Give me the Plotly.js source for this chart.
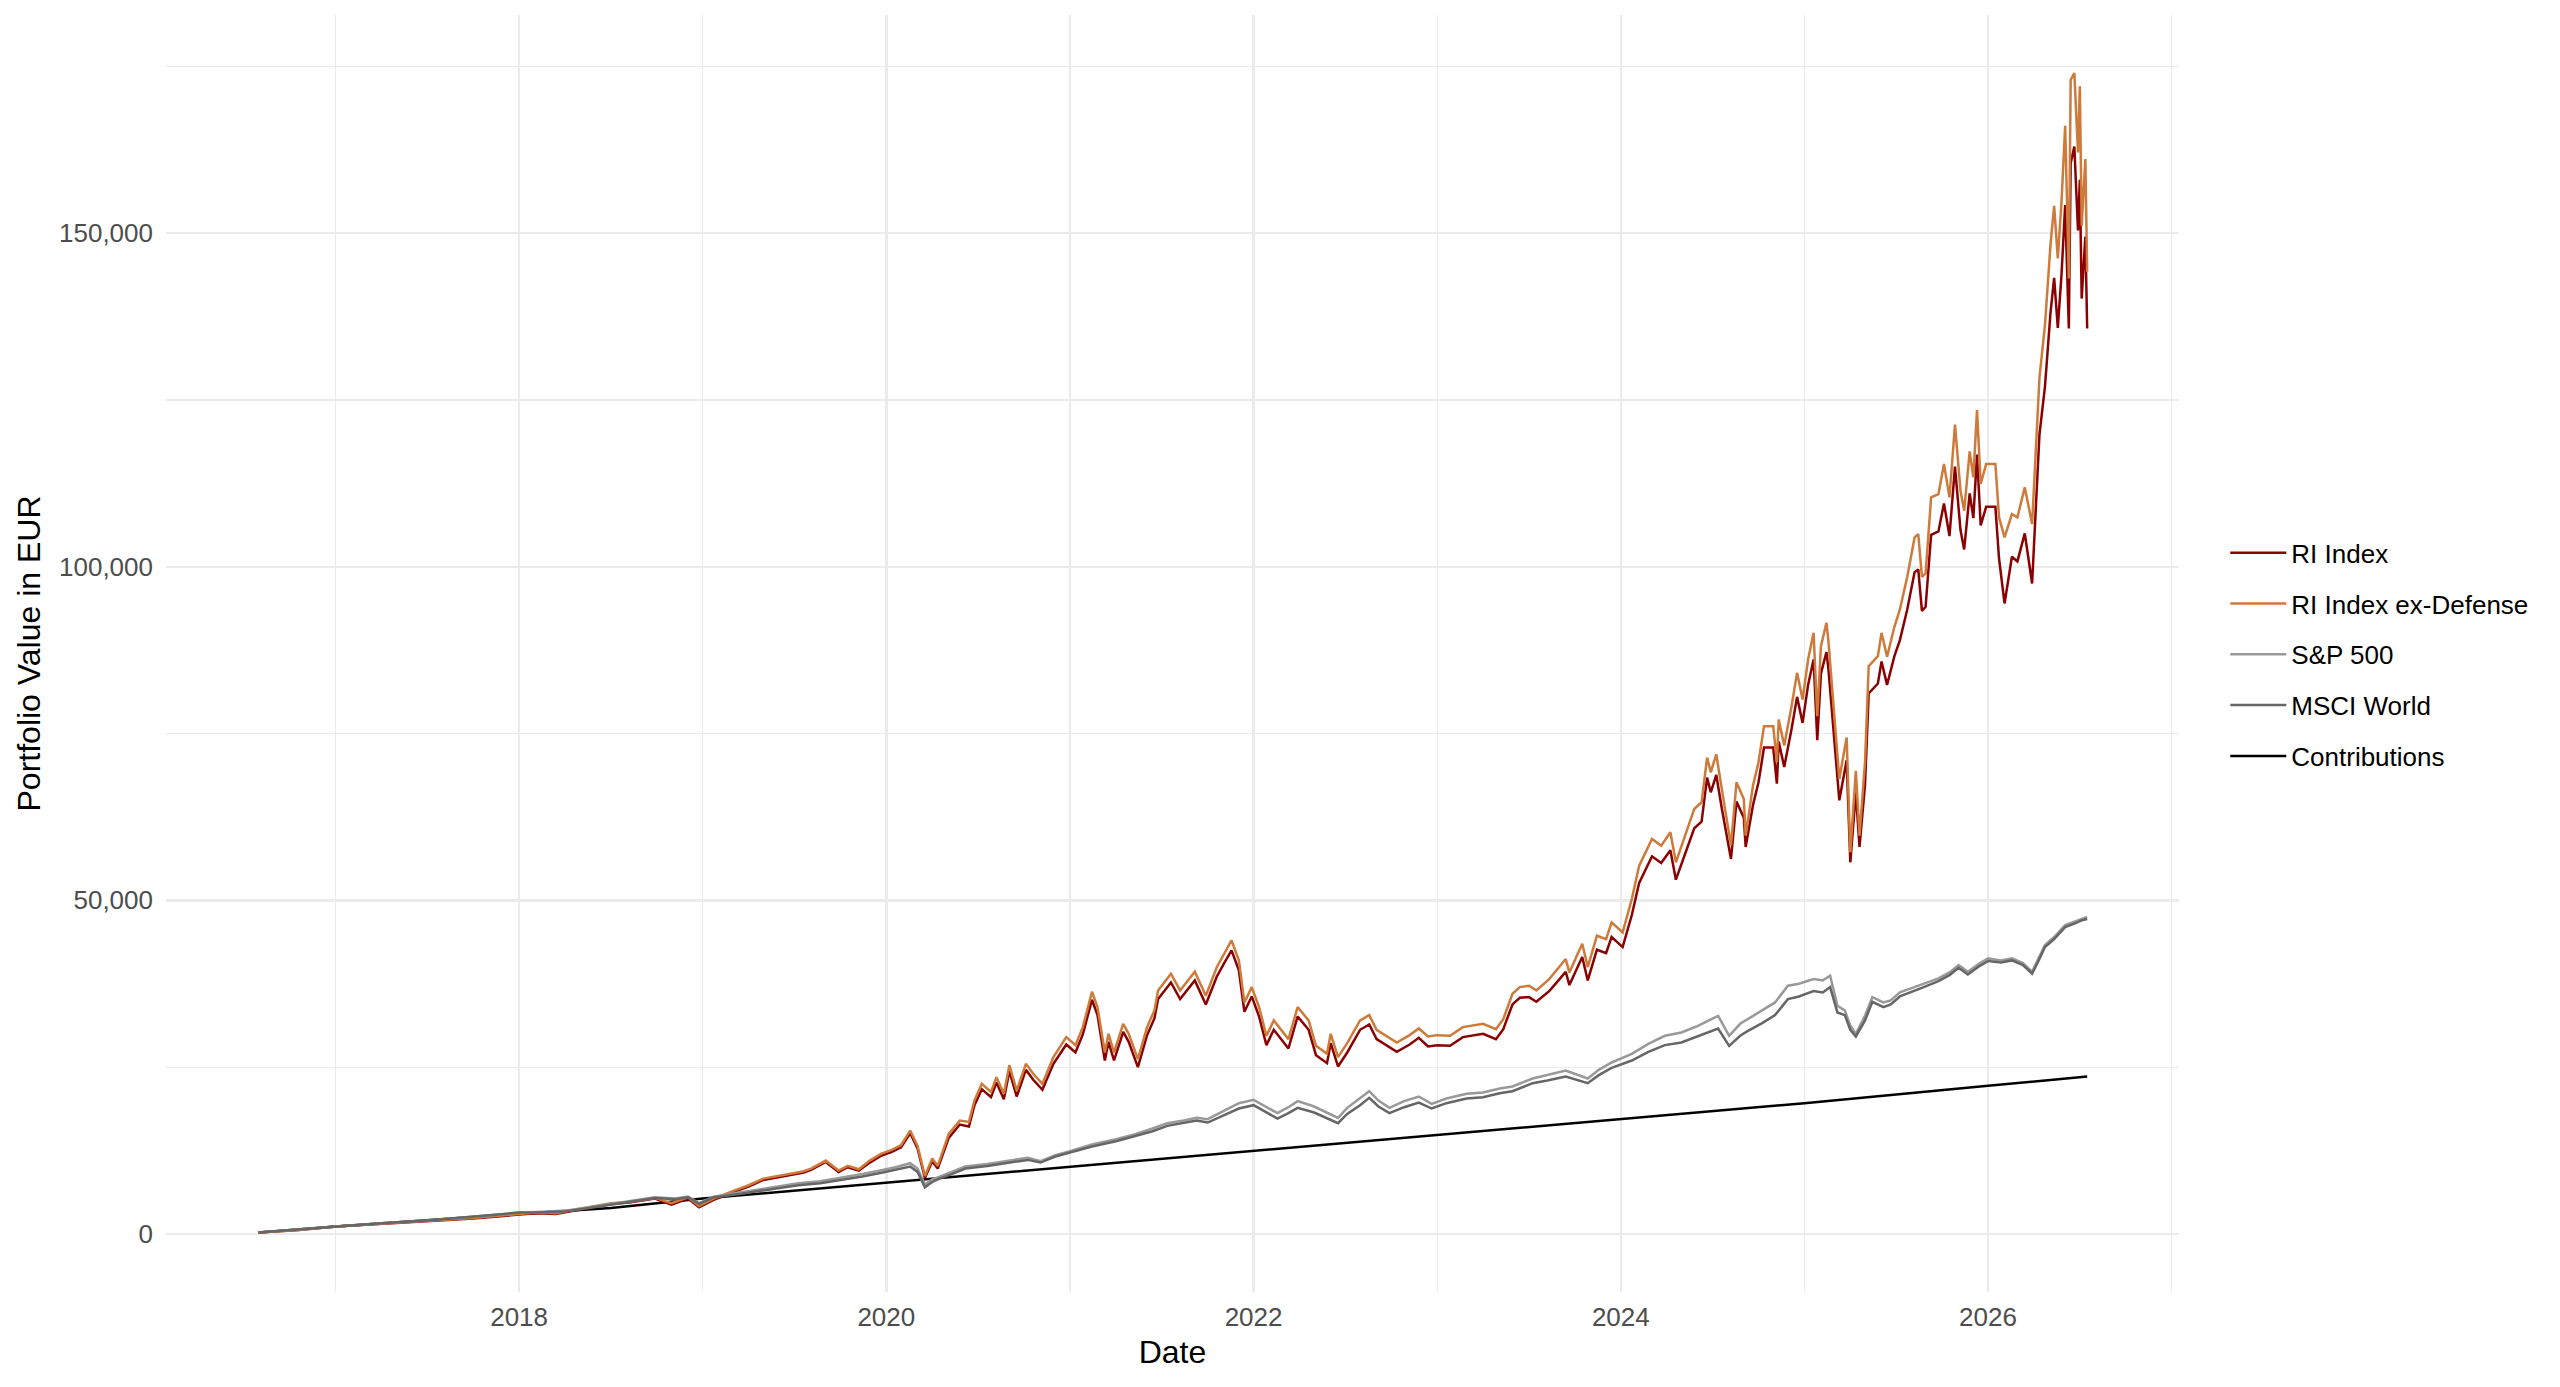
<!DOCTYPE html>
<html>
<head>
<meta charset="utf-8">
<script src="https://cdn.plot.ly/plotly-3.0.1.min.js"></script>
<style>
  html, body { margin: 0; padding: 0; background: #fff; }
  #plot { width: 2560px; height: 1387px; }
</style>
</head>
<body>
<div id="plot"></div>
<script>
// dates are decimal years, values in EUR
var exDefYears = [2016.58,2016.8,2017.0,2017.25,2017.5,2017.75,2018.0,2018.1,2018.2,2018.3,2018.42,2018.5,2018.6,2018.74,2018.83,2018.92,2018.98,2019.06,2019.17,2019.25,2019.33,2019.4,2019.47,2019.55,2019.59,2019.67,2019.74,2019.79,2019.85,2019.91,2019.97,2020.03,2020.08,2020.13,2020.17,2020.21,2020.25,2020.28,2020.34,2020.40,2020.45,2020.48,2020.52,2020.57,2020.60,2020.64,2020.67,2020.71,2020.76,2020.80,2020.85,2020.91,2020.98,2021.03,2021.07,2021.12,2021.15,2021.19,2021.21,2021.24,2021.29,2021.32,2021.37,2021.42,2021.46,2021.48,2021.55,2021.60,2021.68,2021.74,2021.80,2021.84,2021.88,2021.92,2021.95,2021.99,2022.03,2022.07,2022.11,2022.19,2022.24,2022.30,2022.34,2022.40,2022.42,2022.46,2022.51,2022.58,2022.63,2022.67,2022.73,2022.78,2022.85,2022.90,2022.95,2023.00,2023.07,2023.14,2023.25,2023.32,2023.36,2023.41,2023.45,2023.50,2023.54,2023.61,2023.67,2023.70,2023.72,2023.79,2023.82,2023.87,2023.92,2023.95,2024.01,2024.06,2024.10,2024.17,2024.22,2024.27,2024.30,2024.35,2024.40,2024.44,2024.47,2024.49,2024.52,2024.55,2024.58,2024.60,2024.63,2024.67,2024.68,2024.72,2024.75,2024.78,2024.83,2024.85,2024.86,2024.89,2024.93,2024.96,2024.99,2025.02,2025.05,2025.07,2025.09,2025.12,2025.13,2025.16,2025.19,2025.23,2025.25,2025.28,2025.30,2025.33,2025.35,2025.40,2025.42,2025.45,2025.49,2025.52,2025.56,2025.60,2025.62,2025.64,2025.66,2025.69,2025.73,2025.76,2025.79,2025.82,2025.85,2025.87,2025.90,2025.92,2025.94,2025.96,2025.99,2026.04,2026.06,2026.09,2026.13,2026.16,2026.20,2026.24,2026.26,2026.28,2026.31,2026.34,2026.36,2026.38,2026.40,2026.42,2026.44,2026.45,2026.47,2026.49,2026.50,2026.51,2026.53,2026.54]
var exDefValues = [200,600,1100,1500,1900,2400,3000,3200,3100,3600,4300,4600,4800,5400,4600,5500,4200,5300,6500,7300,8300,8600,9000,9400,9800,11000,9500,10200,9700,11000,12000,12600,13300,15500,13200,8700,11300,10200,15000,17000,16800,20000,22500,21300,23500,21000,25300,21500,25500,24000,22500,26500,29500,28300,31000,36300,34000,27200,30000,27200,31500,30000,26200,31000,33500,36500,39000,36500,39300,35700,40000,42000,44000,41000,34700,37000,34000,29700,32000,29200,34000,32000,28200,27000,30000,26500,28600,32000,32800,30600,29500,28700,29800,30800,29600,29800,29700,31000,31500,30700,32200,36000,37000,37200,36500,38200,40200,41200,39200,43500,40000,44700,44200,46700,45200,50200,55200,59200,58200,60200,55700,59700,63700,64700,71400,69200,71900,66700,61700,58200,67700,65200,59700,67200,70700,76100,76100,70700,77100,73200,79100,84100,80100,86100,90100,77600,88100,91600,89100,79100,68200,74400,57200,69400,59700,70700,85100,86600,90100,86500,91000,93600,98500,104400,104900,98500,99000,110400,110900,115400,110400,121300,111400,108400,117300,113400,123500,112400,115400,115400,107400,104400,107900,107400,111900,106400,116400,128300,136200,148200,154100,146200,154600,166100,143200,173000,174000,162100,172000,151100,161100,144200]

var riYears = exDefYears
var riValues = [200,600,1100,1500,1800,2300,2900,3100,3000,3500,4200,4500,4700,5300,4400,5300,4000,5100,6300,7100,8100,8400,8800,9200,9600,10800,9300,10000,9500,10700,11700,12300,13000,15100,12800,8400,10900,9800,14400,16400,16100,19300,21700,20500,22700,20200,24400,20600,24600,23100,21600,25500,28400,27200,29900,35100,32800,26000,28800,26000,30300,28800,25000,29800,32300,35200,37700,35200,38000,34400,38600,40600,42500,39500,33300,35600,32600,28300,30600,27800,32600,30600,26800,25600,28600,25100,27200,30600,31400,29200,28100,27300,28400,29400,28100,28300,28200,29500,30000,29200,30700,34400,35400,35500,34800,36400,38300,39300,37300,41500,38000,42600,42100,44500,43000,47800,52600,56600,55600,57500,53100,57000,60800,61800,68400,66200,68800,63800,59000,56200,64800,62400,58000,64300,67700,72900,72900,67500,73800,70000,75700,80500,76600,82300,86100,74000,84000,87200,84900,75500,65000,71000,55700,66200,58000,67300,81000,82500,85800,82300,86600,89000,93600,99200,99600,93400,94000,104800,105300,109500,104600,115000,105500,102600,111000,107300,116800,106200,109000,109000,101200,94500,101500,100800,105000,97500,108800,119800,127000,138000,143300,135800,143700,154200,135700,160500,163000,150400,158000,140200,149500,135700]

var spYears = [2016.58,2016.8,2017.0,2017.25,2017.5,2017.75,2018.0,2018.1,2018.26,2018.48,2018.6,2018.74,2018.85,2018.92,2018.98,2019.06,2019.2,2019.29,2019.4,2019.52,2019.64,2019.75,2019.87,2019.98,2020.05,2020.13,2020.17,2020.21,2020.25,2020.29,2020.36,2020.43,2020.55,2020.66,2020.77,2020.84,2020.92,2021.0,2021.12,2021.25,2021.35,2021.45,2021.53,2021.62,2021.69,2021.75,2021.80,2021.86,2021.92,2022.0,2022.07,2022.13,2022.19,2022.24,2022.33,2022.40,2022.46,2022.51,2022.58,2022.63,2022.68,2022.74,2022.82,2022.90,2022.97,2023.05,2023.16,2023.25,2023.34,2023.41,2023.52,2023.60,2023.70,2023.82,2023.88,2023.95,2024.06,2024.15,2024.24,2024.33,2024.42,2024.53,2024.59,2024.65,2024.69,2024.77,2024.84,2024.91,2024.97,2025.05,2025.10,2025.14,2025.18,2025.22,2025.25,2025.28,2025.33,2025.37,2025.43,2025.47,2025.52,2025.58,2025.65,2025.73,2025.79,2025.84,2025.89,2025.95,2026.0,2026.07,2026.13,2026.19,2026.24,2026.28,2026.31,2026.36,2026.42,2026.47,2026.51,2026.54]
var spValues = [200,650,1150,1600,2000,2600,3200,3300,3500,4400,4900,5500,5300,5600,4600,5600,6200,6600,7000,7600,7900,8400,9000,9600,10000,10600,9800,7400,8200,8600,9400,10100,10500,10900,11400,10900,11800,12400,13400,14200,14900,15800,16600,17000,17400,17200,17900,18800,19600,20100,19000,18100,19000,19900,19100,18200,17400,18900,20300,21400,20000,18900,19900,20600,19500,20300,21000,21200,21800,22100,23300,23800,24500,23300,24600,25700,27000,28500,29700,30200,31200,32700,29700,31500,32200,33500,34700,37200,37500,38200,38000,38700,34200,33500,31200,30000,32700,35500,34700,35000,36200,36800,37500,38300,39200,40300,39300,40500,41300,41000,41300,40600,39300,41500,43300,44500,46300,46800,47200,47500]

var msciYears = spYears
var msciValues = [200,650,1150,1600,2000,2600,3200,3200,3400,4300,4800,5400,5200,5500,4500,5500,6000,6400,6800,7300,7600,8100,8600,9200,9600,10100,9300,7000,7800,8300,9000,9800,10200,10600,11100,10700,11600,12200,13100,13900,14600,15400,16200,16600,17000,16700,17300,18100,18800,19300,18200,17300,18100,18900,18200,17300,16600,18000,19300,20400,19100,18100,19000,19700,18800,19600,20300,20500,21100,21400,22600,23000,23600,22600,23800,24900,26000,27300,28300,28700,29600,30800,28200,29700,30400,31600,32800,35200,35600,36400,36200,37000,33200,32800,30600,29600,32000,34800,34000,34400,35600,36300,37000,37900,38800,39900,38900,40100,40900,40700,41000,40300,39000,41200,43000,44200,46000,46500,47000,47200]

var contribYears = [2016.58,2017.0,2018.0,2018.5,2019.0,2020.0,2021.0,2022.0,2023.0,2024.0,2025.0,2026.0,2026.54]
var contribValues = [200,1100,3000,3900,5300,7700,10100,12400,14800,17200,19600,22200,23600]

var seriesNames = ["RI Index", "RI Index ex-Defense", "S&P 500", "MSCI World", "Contributions"]
var seriesColors = ["#8B0000", "#CD7A3A", "#999999", "#666666", "#000000"]

var xs = [riYears, exDefYears, spYears, msciYears, contribYears]
var ys = [riValues, exDefValues, spValues, msciValues, contribValues]

// contributions go underneath, legend keeps the original order
var drawOrder = [4, 0, 1, 2, 3]

var data = []
for (let i of drawOrder){
    data.push({
        x: xs[i],
        y: ys[i],
        name: seriesNames[i],
        legendgroup: "g" + i,
        legendrank: i + 1,
        type: "scatter",
        mode: "lines",
        line: {color: seriesColors[i], width: 2.5}
    })
}

var font = "Liberation Sans, Arial, sans-serif"
var grid = "#EBEBEB"

var layout = {
    width: 2560,
    height: 1387,
    paper_bgcolor: "#ffffff",
    plot_bgcolor: "#ffffff",
    margin: {l: 166, r: 381, t: 15, b: 95},
    font: {family: font, size: 26, color: "#000000"},
    showlegend: true,
    legend: {
        x: 1.023,
        xanchor: "left",
        y: 0.499,
        yanchor: "middle",
        traceorder: "grouped",
        tracegroupgap: 14,
        itemwidth: 56,
        font: {family: font, size: 26, color: "#000000"},
        bgcolor: "rgba(0,0,0,0)"
    },
    xaxis: {
        type: "linear",
        range: [2016.077, 2027.04],
        tick0: 2018,
        dtick: 2,
        tickformat: "d",
        ticks: "",
        ticklabelstandoff: 7,
        showgrid: true,
        gridcolor: grid,
        gridwidth: 2.4,
        zeroline: false,
        showline: false,
        tickfont: {family: font, size: 26, color: "#4D4D4D"},
        minor: {tick0: 2017, dtick: 1, showgrid: true, gridcolor: grid, gridwidth: 1.3, ticks: ""},
        title: {text: "Date", font: {family: font, size: 32, color: "#000000"}, standoff: 9},
        automargin: false
    },
    yaxis: {
        range: [-8700, 182700],
        tick0: 0,
        dtick: 50000,
        tickformat: ",d",
        ticks: "",
        ticklabelstandoff: 12,
        showgrid: true,
        gridcolor: grid,
        gridwidth: 2.4,
        zeroline: false,
        showline: false,
        tickfont: {family: font, size: 26, color: "#4D4D4D"},
        minor: {tick0: 25000, dtick: 50000, showgrid: true, gridcolor: grid, gridwidth: 1.3, ticks: ""},
        title: {text: "Portfolio Value in EUR", font: {family: font, size: 32, color: "#000000"}, standoff: 8},
        automargin: false
    }
}

Plotly.newPlot("plot", data, layout, {staticPlot: true, displayModeBar: false})
</script>
</body>
</html>
